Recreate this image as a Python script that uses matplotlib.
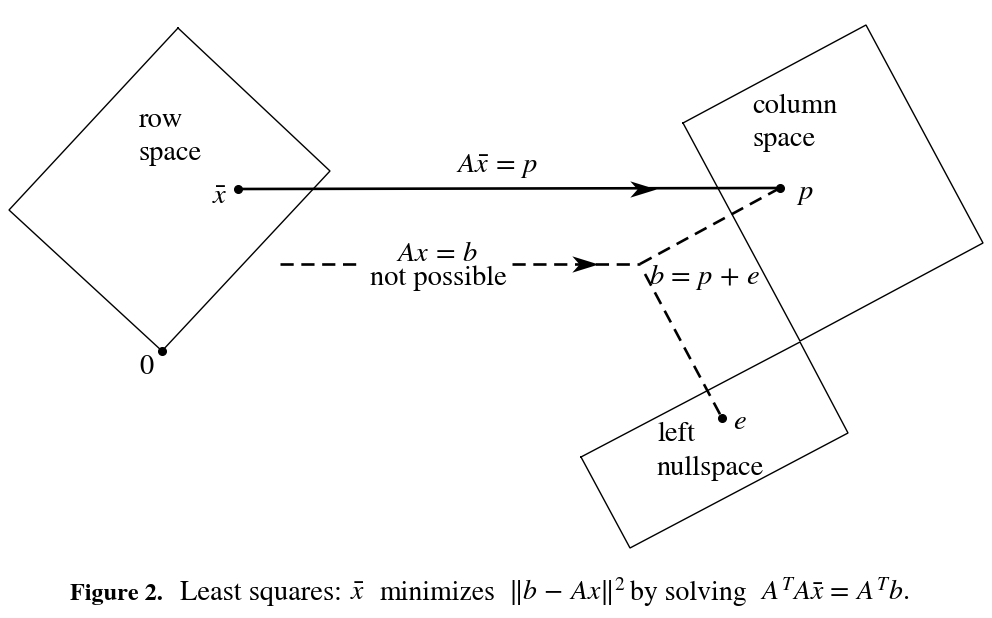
import matplotlib
matplotlib.use("Agg")
import matplotlib.pyplot as plt
from matplotlib.path import Path

plt.rcParams['font.family'] = ['STIXGeneral', 'DejaVu Serif']
plt.rcParams['mathtext.fontset'] = 'stix'
plt.rcParams['lines.scale_dashes'] = False

# ---- diagram geometry (image pixel coordinates, y downward) ----
row_space_x = [178, 330, 162, 9]
row_space_y = [28, 171, 351, 210]

col_space_x = [683, 866, 983, 800]
col_space_y = [123, 25, 243, 341]

null_space_x = [581, 800, 848, 630]
null_space_y = [457, 342, 433, 548]

point_names = ["0", "xbar", "p", "b", "e"]
point_x = [162, 238, 780, 640, 722]
point_y = [351, 189, 188, 264, 418]

dash_left_x = [280, 362]
dash_right_x = [512, 640]
dash_y = 264

labels = [
    ("row", 139, 127, 'left', 'baseline'),
    ("space", 139, 160, 'left', 'baseline'),
    (r"$\bar{x}$", 220, 197, 'center', 'center'),
    ("0", 146, 367, 'center', 'center'),
    ("column", 752, 113, 'left', 'baseline'),
    ("space", 752, 146, 'left', 'baseline'),
    (r"$p$", 796, 194, 'left', 'center'),
    (r"$A\bar{x}\,=\,p$", 497, 166, 'center', 'center'),
    (r"$Ax\,=\,b$", 437, 254, 'center', 'center'),
    ("not possible", 438, 278, 'center', 'center'),
    (r"$b\,=\,p\,+\,e$", 649, 277, 'left', 'center'),
    ("left", 657, 441, 'left', 'baseline'),
    ("nullspace", 657, 475, 'left', 'baseline'),
    (r"$e$", 733, 422, 'left', 'center'),
]

caption_parts = [
    ("Figure 2.", 70, 'bold', 17.5),
    ("Least squares:", 180, 'normal', 20.5),
    (r"$\bar{x}$", 350, 'normal', 20),
    ("minimizes", 380, 'normal', 20),
    (r"$\|b\,-\,Ax\|^2$", 508, 'normal', 20),
    ("by solving", 630, 'normal', 20),
    (r"$A^TA\bar{x}\,=\,A^Tb.$", 760, 'normal', 20),
]
caption_y = 600

fig = plt.figure(figsize=(9.92, 6.18), dpi=100)
ax = fig.add_axes([0, 0, 1, 1])
ax.set_xlim(0, 992)
ax.set_ylim(618, 0)
ax.axis('off')

thin = 1.0
thick = 1.9

def closed(xs, ys):
    return list(xs) + [xs[0]], list(ys) + [ys[0]]

for xs, ys in [(row_space_x, row_space_y), (col_space_x, col_space_y),
               (null_space_x, null_space_y)]:
    cx, cy = closed(xs, ys)
    ax.plot(cx, cy, color='black', lw=thin, solid_joinstyle='miter')

P = dict(zip(point_names, zip(point_x, point_y)))

# stealth arrowhead marker
stealth = Path([(1.0, 0.0), (-1.0, 0.62), (-0.45, 0.0), (-1.0, -0.62), (1.0, 0.0)],
               [Path.MOVETO, Path.LINETO, Path.LINETO, Path.LINETO, Path.CLOSEPOLY])

# solid arrow x̄ -> p
ax.plot([P["xbar"][0], P["p"][0]], [P["xbar"][1], P["p"][1]], color='black', lw=thick)
ax.plot([643], [188.5], marker=stealth, markersize=19, color='black', markeredgewidth=0)

# dashed "not possible" line
dash = (9.5, 5.5)
ax.plot(dash_left_x, [dash_y, dash_y], color='black', lw=thick, dashes=dash)
ax.plot(dash_right_x, [dash_y, dash_y], color='black', lw=thick, dashes=dash)
ax.plot([585], [dash_y], marker=stealth, markersize=19, color='black', markeredgewidth=0)

# dashed b -> p and b -> e
ax.plot([P["b"][0], P["p"][0]], [P["b"][1], P["p"][1]], color='black', lw=thick, dashes=dash)
ax.plot([P["b"][0] + 5, P["e"][0]], [P["b"][1] + 10, P["e"][1]], color='black', lw=thick,
        dashes=dash)

# dots
for n in ["0", "xbar", "p", "e"]:
    ax.plot([P[n][0]], [P[n][1]], 'o', color='black', markersize=5.5)

for txt, x, y, ha, va in labels:
    ax.text(x, y, txt, fontsize=20.5, ha=ha, va=va, color='black')

# caption
for txt, x, w, fs in caption_parts:
    ax.text(x, caption_y, txt, fontsize=fs, fontweight=w, ha='left', va='baseline')

fig.savefig("out.png", dpi=100, facecolor='white')
